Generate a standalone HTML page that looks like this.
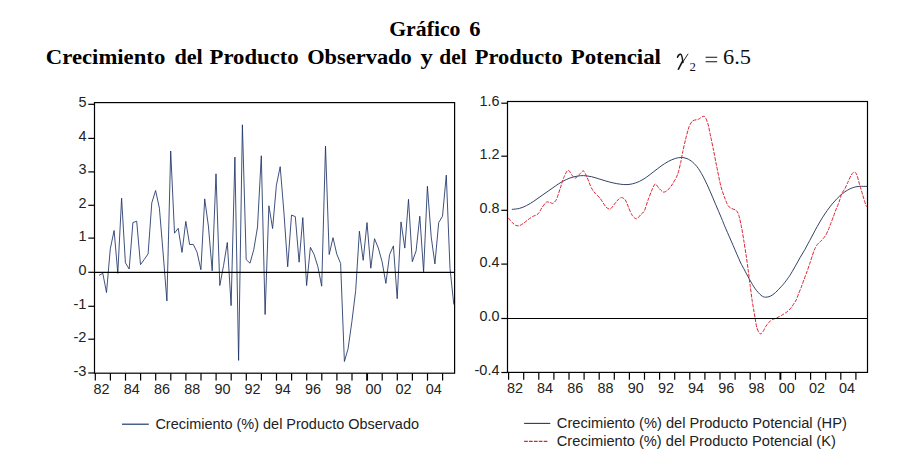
<!DOCTYPE html><html><head><meta charset="utf-8"><title>Gráfico 6</title>
<style>html,body{margin:0;padding:0;background:#fff}svg{display:block}text{font-family:"Liberation Sans",sans-serif;fill:#222}.t{font-family:"Liberation Serif",serif;font-weight:bold;fill:#000}.m{font-family:"Liberation Serif",serif;fill:#111}</style></head><body>
<svg width="905" height="472" viewBox="0 0 905 472">
<rect width="905" height="472" fill="#fff"/>
<text class="t" x="389.2" y="36.2" font-size="21.5" textLength="71.3" lengthAdjust="spacingAndGlyphs">Gráfico</text>
<text class="t" x="469.3" y="36.2" font-size="21.5" textLength="11.2" lengthAdjust="spacingAndGlyphs">6</text>
<text class="t" x="45.8" y="64.0" font-size="21.5" textLength="119.5" lengthAdjust="spacingAndGlyphs">Crecimiento</text>
<text class="t" x="174.4" y="64.0" font-size="21.5" textLength="28.4" lengthAdjust="spacingAndGlyphs">del</text>
<text class="t" x="209.5" y="64.0" font-size="21.5" textLength="89.2" lengthAdjust="spacingAndGlyphs">Producto</text>
<text class="t" x="307.2" y="64.0" font-size="21.5" textLength="104.6" lengthAdjust="spacingAndGlyphs">Observado</text>
<text class="t" x="420.5" y="64.0" font-size="21.5" textLength="12.3" lengthAdjust="spacingAndGlyphs">y</text>
<text class="t" x="439.3" y="64.0" font-size="21.5" textLength="27.3" lengthAdjust="spacingAndGlyphs">del</text>
<text class="t" x="474.7" y="64.0" font-size="21.5" textLength="88.1" lengthAdjust="spacingAndGlyphs">Producto</text>
<text class="t" x="570.7" y="64.0" font-size="21.5" textLength="90.3" lengthAdjust="spacingAndGlyphs">Potencial</text>
<path d="M677.5 57.3 C678.1 55.3 679.4 54.0 680.7 54.2 C682.1 54.5 682.4 57.5 682.9 62.6" fill="none" stroke="#111" stroke-width="1.5" stroke-linecap="round"/>
<path d="M687.9 54.1 L682.6 62.4" fill="none" stroke="#111" stroke-width="0.9" stroke-linecap="round"/>
<path d="M683.3 61.6 L678.9 69.9 L677.4 69.4 L681.6 61.2 Z" fill="#111"/>
<text class="m" x="689.6" y="70.8" font-size="12.8">2</text>
<path d="M705.6 57.2H717.2M705.6 61.7H717.2" stroke="#111" stroke-width="1.05" fill="none"/>
<text class="m" x="723" y="64" font-size="21.5" textLength="28" lengthAdjust="spacingAndGlyphs">6.5</text>
<rect x="94.5" y="102.6" width="360.1" height="270.6" fill="none" stroke="#000" stroke-width="1.2"/>
<line x1="88.3" y1="104.3" x2="94.5" y2="104.3" stroke="#000" stroke-width="1.2"/>
<text x="78.5" y="106.8" font-size="15.4" textLength="8" lengthAdjust="spacingAndGlyphs">5</text>
<line x1="88.3" y1="138.4" x2="94.5" y2="138.4" stroke="#000" stroke-width="1.2"/>
<text x="78.5" y="140.9" font-size="15.4" textLength="8" lengthAdjust="spacingAndGlyphs">4</text>
<line x1="88.3" y1="171.9" x2="94.5" y2="171.9" stroke="#000" stroke-width="1.2"/>
<text x="78.5" y="174.4" font-size="15.4" textLength="8" lengthAdjust="spacingAndGlyphs">3</text>
<line x1="88.3" y1="205.3" x2="94.5" y2="205.3" stroke="#000" stroke-width="1.2"/>
<text x="78.5" y="207.8" font-size="15.4" textLength="8" lengthAdjust="spacingAndGlyphs">2</text>
<line x1="88.3" y1="238.1" x2="94.5" y2="238.1" stroke="#000" stroke-width="1.2"/>
<text x="78.5" y="240.6" font-size="15.4" textLength="8" lengthAdjust="spacingAndGlyphs">1</text>
<line x1="88.3" y1="272.3" x2="94.5" y2="272.3" stroke="#000" stroke-width="1.2"/>
<text x="78.5" y="274.8" font-size="15.4" textLength="8" lengthAdjust="spacingAndGlyphs">0</text>
<line x1="88.3" y1="306.3" x2="94.5" y2="306.3" stroke="#000" stroke-width="1.2"/>
<text x="73.5" y="308.8" font-size="15.4" textLength="13" lengthAdjust="spacingAndGlyphs">-1</text>
<line x1="88.3" y1="339.2" x2="94.5" y2="339.2" stroke="#000" stroke-width="1.2"/>
<text x="73.5" y="341.7" font-size="15.4" textLength="13" lengthAdjust="spacingAndGlyphs">-2</text>
<line x1="88.3" y1="373.0" x2="94.5" y2="373.0" stroke="#000" stroke-width="1.2"/>
<text x="73.5" y="375.5" font-size="15.4" textLength="13" lengthAdjust="spacingAndGlyphs">-3</text>
<line x1="95.3" y1="373.2" x2="95.3" y2="380.59999999999997" stroke="#000" stroke-width="1.2"/>
<text x="93.6" y="393.8" font-size="15.4" textLength="16" lengthAdjust="spacingAndGlyphs">82</text>
<line x1="110.4" y1="373.2" x2="110.4" y2="380.59999999999997" stroke="#000" stroke-width="1.2"/>
<line x1="125.5" y1="373.2" x2="125.5" y2="380.59999999999997" stroke="#000" stroke-width="1.2"/>
<text x="123.8" y="393.8" font-size="15.4" textLength="16" lengthAdjust="spacingAndGlyphs">84</text>
<line x1="140.6" y1="373.2" x2="140.6" y2="380.59999999999997" stroke="#000" stroke-width="1.2"/>
<line x1="155.7" y1="373.2" x2="155.7" y2="380.59999999999997" stroke="#000" stroke-width="1.2"/>
<text x="154.0" y="393.8" font-size="15.4" textLength="16" lengthAdjust="spacingAndGlyphs">86</text>
<line x1="170.8" y1="373.2" x2="170.8" y2="380.59999999999997" stroke="#000" stroke-width="1.2"/>
<line x1="185.9" y1="373.2" x2="185.9" y2="380.59999999999997" stroke="#000" stroke-width="1.2"/>
<text x="184.2" y="393.8" font-size="15.4" textLength="16" lengthAdjust="spacingAndGlyphs">88</text>
<line x1="201.0" y1="373.2" x2="201.0" y2="380.59999999999997" stroke="#000" stroke-width="1.2"/>
<line x1="216.1" y1="373.2" x2="216.1" y2="380.59999999999997" stroke="#000" stroke-width="1.2"/>
<text x="214.4" y="393.8" font-size="15.4" textLength="16" lengthAdjust="spacingAndGlyphs">90</text>
<line x1="231.2" y1="373.2" x2="231.2" y2="380.59999999999997" stroke="#000" stroke-width="1.2"/>
<line x1="246.3" y1="373.2" x2="246.3" y2="380.59999999999997" stroke="#000" stroke-width="1.2"/>
<text x="244.6" y="393.8" font-size="15.4" textLength="16" lengthAdjust="spacingAndGlyphs">92</text>
<line x1="261.4" y1="373.2" x2="261.4" y2="380.59999999999997" stroke="#000" stroke-width="1.2"/>
<line x1="276.5" y1="373.2" x2="276.5" y2="380.59999999999997" stroke="#000" stroke-width="1.2"/>
<text x="274.8" y="393.8" font-size="15.4" textLength="16" lengthAdjust="spacingAndGlyphs">94</text>
<line x1="291.6" y1="373.2" x2="291.6" y2="380.59999999999997" stroke="#000" stroke-width="1.2"/>
<line x1="306.7" y1="373.2" x2="306.7" y2="380.59999999999997" stroke="#000" stroke-width="1.2"/>
<text x="305.0" y="393.8" font-size="15.4" textLength="16" lengthAdjust="spacingAndGlyphs">96</text>
<line x1="321.8" y1="373.2" x2="321.8" y2="380.59999999999997" stroke="#000" stroke-width="1.2"/>
<line x1="336.9" y1="373.2" x2="336.9" y2="380.59999999999997" stroke="#000" stroke-width="1.2"/>
<text x="335.2" y="393.8" font-size="15.4" textLength="16" lengthAdjust="spacingAndGlyphs">98</text>
<line x1="352.0" y1="373.2" x2="352.0" y2="380.59999999999997" stroke="#000" stroke-width="1.2"/>
<line x1="367.1" y1="373.2" x2="367.1" y2="380.59999999999997" stroke="#000" stroke-width="1.9"/>
<text x="365.4" y="393.8" font-size="15.4" textLength="16" lengthAdjust="spacingAndGlyphs">00</text>
<line x1="382.2" y1="373.2" x2="382.2" y2="380.59999999999997" stroke="#000" stroke-width="1.2"/>
<line x1="397.3" y1="373.2" x2="397.3" y2="380.59999999999997" stroke="#000" stroke-width="1.2"/>
<text x="395.6" y="393.8" font-size="15.4" textLength="16" lengthAdjust="spacingAndGlyphs">02</text>
<line x1="412.4" y1="373.2" x2="412.4" y2="380.59999999999997" stroke="#000" stroke-width="1.2"/>
<line x1="427.5" y1="373.2" x2="427.5" y2="380.59999999999997" stroke="#000" stroke-width="1.2"/>
<text x="425.8" y="393.8" font-size="15.4" textLength="16" lengthAdjust="spacingAndGlyphs">04</text>
<line x1="442.6" y1="373.2" x2="442.6" y2="380.59999999999997" stroke="#000" stroke-width="1.2"/>
<rect x="507.5" y="101.5" width="360.0" height="270.9" fill="none" stroke="#000" stroke-width="1.2"/>
<line x1="501.3" y1="103.2" x2="507.5" y2="103.2" stroke="#000" stroke-width="1.2"/>
<text x="479.5" y="105.7" font-size="15.4" textLength="20" lengthAdjust="spacingAndGlyphs">1.6</text>
<line x1="501.3" y1="156.2" x2="507.5" y2="156.2" stroke="#000" stroke-width="1.2"/>
<text x="479.5" y="158.7" font-size="15.4" textLength="20" lengthAdjust="spacingAndGlyphs">1.2</text>
<line x1="501.3" y1="210.3" x2="507.5" y2="210.3" stroke="#000" stroke-width="1.2"/>
<text x="479.5" y="212.8" font-size="15.4" textLength="20" lengthAdjust="spacingAndGlyphs">0.8</text>
<line x1="501.3" y1="264.1" x2="507.5" y2="264.1" stroke="#000" stroke-width="1.2"/>
<text x="479.5" y="266.6" font-size="15.4" textLength="20" lengthAdjust="spacingAndGlyphs">0.4</text>
<line x1="501.3" y1="318.5" x2="507.5" y2="318.5" stroke="#000" stroke-width="1.2"/>
<text x="479.5" y="321.0" font-size="15.4" textLength="20" lengthAdjust="spacingAndGlyphs">0.0</text>
<line x1="501.3" y1="372.5" x2="507.5" y2="372.5" stroke="#000" stroke-width="1.2"/>
<text x="474.5" y="375.0" font-size="15.4" textLength="25" lengthAdjust="spacingAndGlyphs">-0.4</text>
<line x1="508.6" y1="372.4" x2="508.6" y2="379.79999999999995" stroke="#000" stroke-width="1.2"/>
<text x="506.9" y="393.0" font-size="15.4" textLength="16" lengthAdjust="spacingAndGlyphs">82</text>
<line x1="523.7" y1="372.4" x2="523.7" y2="379.79999999999995" stroke="#000" stroke-width="1.2"/>
<line x1="538.8" y1="372.4" x2="538.8" y2="379.79999999999995" stroke="#000" stroke-width="1.2"/>
<text x="537.1" y="393.0" font-size="15.4" textLength="16" lengthAdjust="spacingAndGlyphs">84</text>
<line x1="553.9" y1="372.4" x2="553.9" y2="379.79999999999995" stroke="#000" stroke-width="1.2"/>
<line x1="569.0" y1="372.4" x2="569.0" y2="379.79999999999995" stroke="#000" stroke-width="1.2"/>
<text x="567.3" y="393.0" font-size="15.4" textLength="16" lengthAdjust="spacingAndGlyphs">86</text>
<line x1="584.1" y1="372.4" x2="584.1" y2="379.79999999999995" stroke="#000" stroke-width="1.2"/>
<line x1="599.2" y1="372.4" x2="599.2" y2="379.79999999999995" stroke="#000" stroke-width="1.2"/>
<text x="597.5" y="393.0" font-size="15.4" textLength="16" lengthAdjust="spacingAndGlyphs">88</text>
<line x1="614.3" y1="372.4" x2="614.3" y2="379.79999999999995" stroke="#000" stroke-width="1.2"/>
<line x1="629.4" y1="372.4" x2="629.4" y2="379.79999999999995" stroke="#000" stroke-width="1.2"/>
<text x="627.7" y="393.0" font-size="15.4" textLength="16" lengthAdjust="spacingAndGlyphs">90</text>
<line x1="644.5" y1="372.4" x2="644.5" y2="379.79999999999995" stroke="#000" stroke-width="1.2"/>
<line x1="659.6" y1="372.4" x2="659.6" y2="379.79999999999995" stroke="#000" stroke-width="1.2"/>
<text x="657.9" y="393.0" font-size="15.4" textLength="16" lengthAdjust="spacingAndGlyphs">92</text>
<line x1="674.7" y1="372.4" x2="674.7" y2="379.79999999999995" stroke="#000" stroke-width="1.2"/>
<line x1="689.8" y1="372.4" x2="689.8" y2="379.79999999999995" stroke="#000" stroke-width="1.2"/>
<text x="688.1" y="393.0" font-size="15.4" textLength="16" lengthAdjust="spacingAndGlyphs">94</text>
<line x1="704.9" y1="372.4" x2="704.9" y2="379.79999999999995" stroke="#000" stroke-width="1.2"/>
<line x1="720.0" y1="372.4" x2="720.0" y2="379.79999999999995" stroke="#000" stroke-width="1.2"/>
<text x="718.3" y="393.0" font-size="15.4" textLength="16" lengthAdjust="spacingAndGlyphs">96</text>
<line x1="735.1" y1="372.4" x2="735.1" y2="379.79999999999995" stroke="#000" stroke-width="1.2"/>
<line x1="750.2" y1="372.4" x2="750.2" y2="379.79999999999995" stroke="#000" stroke-width="1.2"/>
<text x="748.5" y="393.0" font-size="15.4" textLength="16" lengthAdjust="spacingAndGlyphs">98</text>
<line x1="765.3" y1="372.4" x2="765.3" y2="379.79999999999995" stroke="#000" stroke-width="1.2"/>
<line x1="780.4" y1="372.4" x2="780.4" y2="379.79999999999995" stroke="#000" stroke-width="1.9"/>
<text x="778.7" y="393.0" font-size="15.4" textLength="16" lengthAdjust="spacingAndGlyphs">00</text>
<line x1="795.5" y1="372.4" x2="795.5" y2="379.79999999999995" stroke="#000" stroke-width="1.2"/>
<line x1="810.6" y1="372.4" x2="810.6" y2="379.79999999999995" stroke="#000" stroke-width="1.2"/>
<text x="808.9" y="393.0" font-size="15.4" textLength="16" lengthAdjust="spacingAndGlyphs">02</text>
<line x1="825.7" y1="372.4" x2="825.7" y2="379.79999999999995" stroke="#000" stroke-width="1.2"/>
<line x1="840.8" y1="372.4" x2="840.8" y2="379.79999999999995" stroke="#000" stroke-width="1.2"/>
<text x="839.1" y="393.0" font-size="15.4" textLength="16" lengthAdjust="spacingAndGlyphs">04</text>
<line x1="855.9" y1="372.4" x2="855.9" y2="379.79999999999995" stroke="#000" stroke-width="1.2"/>
<polyline points="99.0,275.4 102.8,273.3 106.5,292.5 110.3,248.8 114.1,230.5 117.8,273.3 121.6,198.2 125.4,262.8 129.2,269.0 132.9,222.6 136.7,221.2 140.5,264.6 144.3,259.4 148.1,253.8 151.8,202.8 155.6,190.5 159.4,208.2 163.2,254.0 166.9,300.9 170.7,151.0 174.5,233.2 178.2,228.3 182.0,252.4 185.8,221.4 189.6,244.5 193.3,244.4 197.1,252.4 200.9,269.7 204.7,198.9 208.4,226.0 212.2,270.8 216.0,173.8 219.8,285.5 223.6,265.3 227.3,242.5 231.1,305.6 234.9,157.1 238.6,360.4 242.4,124.8 246.2,259.6 250.0,263.2 253.8,249.5 257.5,227.0 261.3,155.8 265.1,314.5 268.9,205.8 272.6,228.5 276.4,185.2 280.2,166.7 283.9,212.0 287.7,266.8 291.5,215.1 295.3,216.6 299.1,262.2 302.8,217.6 306.6,285.5 310.4,247.3 314.1,254.5 317.9,266.8 321.7,286.2 325.5,146.1 329.2,254.5 333.0,237.7 336.8,254.2 340.6,263.4 344.4,361.5 348.1,348.6 351.9,321.5 355.7,290.5 359.4,231.2 363.2,260.3 367.0,222.6 370.8,268.2 374.5,238.7 378.3,248.0 382.1,261.7 385.9,283.4 389.6,254.5 393.4,245.9 397.2,298.7 401.0,221.9 404.8,248.1 408.5,199.3 412.3,261.7 416.1,250.9 419.8,216.2 423.6,271.8 427.4,186.3 431.2,236.8 434.9,263.9 438.7,222.6 442.5,216.2 446.3,175.1 450.0,268.5 453.8,304.5" fill="none" stroke="#1c3266" stroke-width="0.85" stroke-linejoin="miter" stroke-miterlimit="10"/>
<path d="M511.9 209.4C513.1 209.2 516.9 209.1 519.4 208.4C521.9 207.8 524.2 206.7 526.6 205.5C529.0 204.3 531.4 202.8 533.8 201.2C536.2 199.6 538.6 197.8 541.0 196.1C543.4 194.4 545.8 192.8 548.2 191.1C550.6 189.4 553.0 187.6 555.4 186.0C557.8 184.4 560.2 182.7 562.6 181.4C565.0 180.1 567.4 179.0 569.8 178.1C572.2 177.2 574.7 176.6 577.0 176.2C579.3 175.8 581.1 175.5 583.5 175.6C585.9 175.7 589.0 176.2 591.5 176.7C594.0 177.2 596.3 178.1 598.7 178.8C601.1 179.5 603.5 180.3 605.9 181.0C608.3 181.7 610.7 182.4 613.1 182.9C615.5 183.4 618.1 183.9 620.3 184.2C622.4 184.5 624.0 184.6 626.0 184.6C628.0 184.6 630.0 184.4 632.2 183.9C634.4 183.4 637.0 182.5 639.4 181.4C641.8 180.3 644.2 178.7 646.6 177.1C649.0 175.5 651.4 173.4 653.8 171.6C656.2 169.8 658.6 167.8 661.0 166.1C663.4 164.4 665.8 162.8 668.2 161.5C670.6 160.2 673.2 159.1 675.4 158.4C677.6 157.7 679.3 157.5 681.2 157.5C683.1 157.5 685.1 157.8 687.0 158.6C688.9 159.4 690.8 160.5 692.7 162.2C694.6 163.9 696.6 165.9 698.5 168.7C700.4 171.5 702.4 175.1 704.3 178.8C706.2 182.5 708.1 186.8 710.0 191.1C711.9 195.4 713.9 200.4 715.8 204.8C717.7 209.2 719.6 213.7 721.3 217.7C723.0 221.7 723.9 224.3 725.9 228.9C727.9 233.5 730.7 239.9 733.1 245.4C735.5 250.9 738.5 258.1 740.3 262.0C742.1 265.9 742.2 265.8 743.8 268.7C745.3 271.6 747.7 276.1 749.6 279.5C751.5 282.9 753.4 286.3 755.3 288.9C757.2 291.5 759.4 293.9 761.1 295.3C762.8 296.7 763.8 297.1 765.4 297.2C767.0 297.3 768.8 296.9 770.5 296.1C772.2 295.3 773.7 294.1 775.5 292.5C777.3 290.9 779.9 288.0 781.5 286.3C783.1 284.6 783.5 284.1 784.9 282.3C786.3 280.5 788.2 278.0 789.9 275.4C791.6 272.8 793.2 269.8 794.9 266.9C796.6 264.0 798.2 260.8 799.9 257.9C801.6 255.0 803.2 252.4 804.9 249.5C806.5 246.6 808.1 243.5 809.8 240.4C811.5 237.3 813.2 233.9 814.9 230.8C816.6 227.7 818.1 224.8 819.8 222.0C821.4 219.2 823.1 216.5 824.8 214.0C826.5 211.5 828.1 209.2 829.8 207.0C831.5 204.8 833.1 202.8 834.8 201.0C836.5 199.2 838.1 197.4 839.8 195.9C841.5 194.4 843.1 193.1 844.8 191.9C846.5 190.7 848.1 189.7 849.8 188.9C851.4 188.1 853.1 187.5 854.7 187.1C856.4 186.7 857.6 186.5 859.7 186.4C861.8 186.3 866.0 186.4 867.2 186.4" fill="none" stroke="#28395f" stroke-width="0.95" stroke-linejoin="round"/>
<path d="M508.2 217.8C508.7 218.4 511.2 221.5 512.2 222.5C513.2 223.5 514.8 225.0 515.8 225.4C516.8 225.8 518.3 226.0 519.4 225.7C520.5 225.4 522.5 224.0 523.7 223.2C524.9 222.4 526.9 220.5 528.1 219.6C529.3 218.7 531.1 217.5 532.4 216.7C533.7 215.9 536.9 215.0 538.1 213.9C539.3 212.8 540.6 209.6 541.7 208.1C542.8 206.6 545.0 203.1 546.1 202.3C547.2 201.5 548.8 202.2 549.7 202.3C550.6 202.4 552.1 203.8 553.0 203.4C553.9 203.0 555.5 201.2 556.5 199.2C557.5 197.2 559.2 191.4 560.2 188.4C561.2 185.4 563.0 179.1 564.1 176.7C565.2 174.3 567.0 170.4 568.1 170.2C569.2 170.0 571.0 174.1 572.0 175.2C573.0 176.3 574.5 178.3 575.6 178.1C576.7 177.9 578.8 174.8 579.9 173.8C581.0 172.8 582.5 170.4 583.5 170.9C584.5 171.4 586.0 175.1 587.1 177.4C588.2 179.7 590.4 186.1 591.5 188.2C592.6 190.3 594.0 191.9 595.1 193.2C596.2 194.5 598.7 196.5 600.1 198.3C601.5 200.1 604.6 205.5 605.9 206.9C607.2 208.3 609.1 209.5 610.2 209.1C611.3 208.7 613.4 205.3 614.5 204.0C615.6 202.7 617.8 199.9 618.8 199.0C619.8 198.1 620.8 197.5 621.7 197.6C622.6 197.7 624.4 198.5 625.3 199.9C626.2 201.3 627.8 205.7 628.7 207.8C629.6 209.9 631.2 213.8 632.2 215.3C633.2 216.8 635.3 218.9 636.5 218.8C637.7 218.7 639.9 215.5 640.9 214.5C641.9 213.5 643.3 212.9 644.3 211.0C645.3 209.1 647.0 202.8 648.1 199.9C649.2 197.0 651.4 191.0 652.4 188.9C653.4 186.8 654.4 184.0 655.3 183.9C656.2 183.8 657.8 187.1 658.9 188.2C660.0 189.3 662.1 191.8 663.2 192.1C664.3 192.4 666.2 191.4 667.5 190.3C668.8 189.2 671.3 186.0 672.6 183.9C673.9 181.8 676.5 177.4 677.6 174.5C678.7 171.6 680.0 165.6 680.7 162.5C681.4 159.4 682.2 154.5 682.8 151.5C683.4 148.5 684.7 143.0 685.5 139.7C686.3 136.4 688.1 129.2 689.1 126.7C690.1 124.2 691.4 121.9 692.7 120.9C694.0 119.9 697.0 119.8 698.5 119.2C700.0 118.6 703.0 115.7 704.3 116.3C705.6 116.9 707.0 121.1 707.9 123.8C708.8 126.5 709.9 133.2 710.7 136.8C711.5 140.4 712.8 146.8 713.6 150.6C714.4 154.4 715.5 160.8 716.5 165.5C717.5 170.2 719.7 181.8 720.8 186.0C721.9 190.2 723.4 194.4 724.4 197.0C725.4 199.6 727.0 204.1 728.0 205.6C729.0 207.1 730.5 207.9 731.6 208.5C732.7 209.1 735.0 209.4 736.0 210.3C737.0 211.2 738.0 212.8 738.8 215.2C739.6 217.6 741.0 224.6 741.7 228.1C742.4 231.6 743.3 237.6 743.9 241.1C744.5 244.6 745.4 250.7 746.0 254.5C746.6 258.3 747.5 265.1 748.1 269.4C748.7 273.7 749.7 282.4 750.3 286.7C750.9 291.0 751.8 298.3 752.3 301.5C752.8 304.7 753.5 308.5 753.9 311.0C754.3 313.5 755.0 317.6 755.4 319.9C755.8 322.2 756.4 326.2 756.9 327.9C757.4 329.6 758.4 331.6 758.9 332.4C759.4 333.2 760.2 334.0 760.7 333.9C761.2 333.8 762.1 332.9 762.8 331.9C763.5 330.9 765.0 327.7 765.8 326.4C766.6 325.1 767.9 323.3 768.8 322.4C769.7 321.5 771.7 320.0 772.8 319.4C773.9 318.8 775.6 318.5 776.8 317.9C778.0 317.3 780.5 316.0 781.8 315.2C783.1 314.4 785.6 313.0 786.8 312.0C788.0 311.0 789.9 309.2 790.9 308.0C791.9 306.8 793.6 304.1 794.3 303.0C795.0 301.9 795.6 301.2 796.2 300.0C796.8 298.8 797.8 295.8 798.5 294.0C799.2 292.2 800.7 288.7 801.4 286.8C802.1 284.9 803.2 281.8 803.9 279.8C804.6 277.8 806.1 274.1 806.9 271.9C807.7 269.7 809.1 265.5 809.8 263.4C810.5 261.3 811.7 257.7 812.3 255.9C812.9 254.1 813.6 251.5 814.3 250.0C815.0 248.5 816.6 245.5 817.3 244.5C818.0 243.5 818.9 242.9 819.5 242.3C820.1 241.7 821.0 241.1 821.8 240.2C822.6 239.3 824.4 237.3 825.3 235.9C826.2 234.5 827.6 231.6 828.3 229.9C829.0 228.2 830.1 225.1 830.8 223.4C831.5 221.7 832.6 218.7 833.3 216.9C834.0 215.1 835.1 211.7 835.8 210.0C836.5 208.3 837.8 205.4 838.3 204.0C838.8 202.6 839.3 201.2 839.8 199.8C840.3 198.4 841.1 194.9 841.8 193.4C842.5 191.9 844.0 190.4 844.8 188.9C845.6 187.4 847.0 184.1 847.8 182.4C848.6 180.7 850.1 177.2 850.8 175.9C851.5 174.6 852.6 173.0 853.2 172.5C853.8 172.0 854.7 171.7 855.2 172.2C855.7 172.7 856.6 174.2 857.2 175.9C857.8 177.6 859.0 182.4 859.7 184.9C860.4 187.4 861.9 192.2 862.7 194.9C863.5 197.6 865.2 203.2 865.7 204.8C866.2 206.4 866.6 206.5 866.7 206.8" fill="none" stroke="#de2233" stroke-width="1.0" stroke-dasharray="3.7 1.3" stroke-linejoin="round"/>
<path d="M94.5 272.4H454.6M507.5 318.5H867.5" stroke="#000" stroke-width="1.2" fill="none"/>
<line x1="122" y1="424.2" x2="148.8" y2="424.2" stroke="#1f3a72" stroke-width="1.2"/>
<text x="155.4" y="428.7" font-size="15.4" textLength="263.6" lengthAdjust="spacingAndGlyphs">Crecimiento (%) del Producto Observado</text>
<line x1="524.1" y1="423.4" x2="550.3" y2="423.4" stroke="#28395f" stroke-width="1.1"/>
<line x1="524.1" y1="441.4" x2="548.3" y2="441.4" stroke="#cc2a3a" stroke-width="1.1" stroke-dasharray="3.7 1.2"/>
<text x="556.8" y="428.4" font-size="15.4" textLength="290" lengthAdjust="spacingAndGlyphs">Crecimiento (%) del Producto Potencial (HP)</text>
<text x="556.8" y="446.2" font-size="15.4" textLength="279" lengthAdjust="spacingAndGlyphs">Crecimiento (%) del Producto Potencial (K)</text>
</svg></body></html>
